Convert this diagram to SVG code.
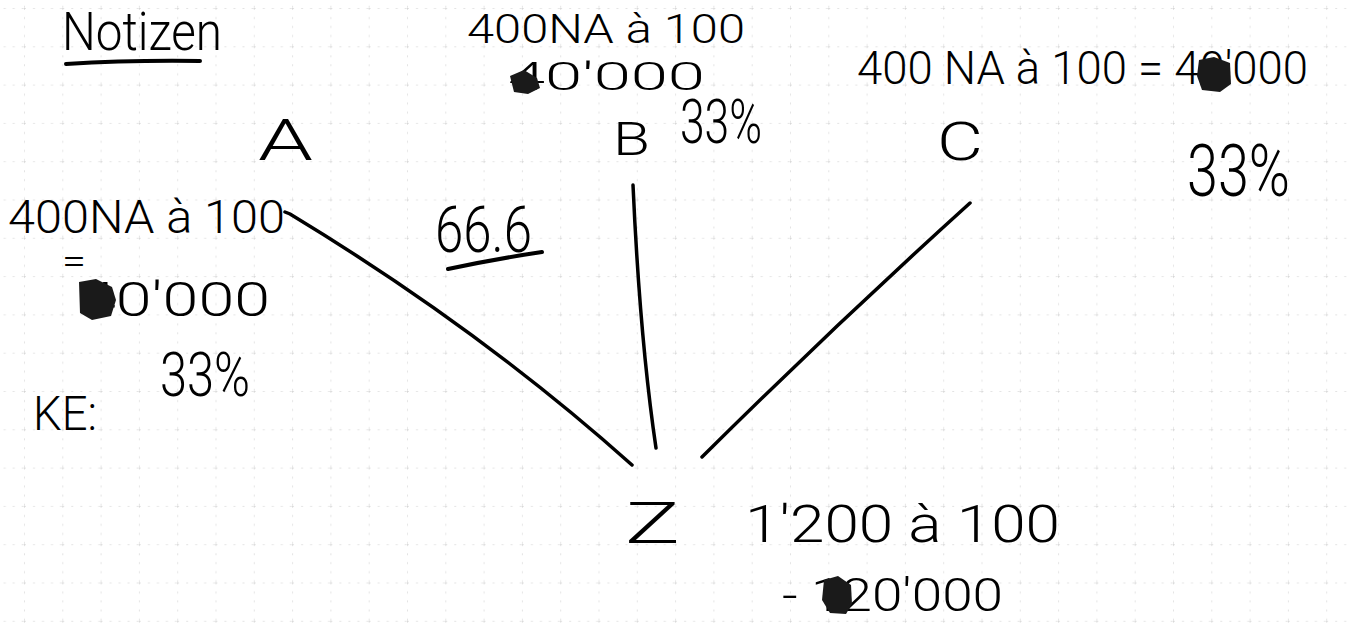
<svg xmlns="http://www.w3.org/2000/svg" width="1347" height="623" viewBox="0 0 1347 623">
<style>
.t{font-family:Roboto,"Open Sans","Liberation Sans",sans-serif;font-weight:300;fill:#000}
.ln{fill:none;stroke:#000;stroke-width:3.5;stroke-linecap:round}
.ul{fill:none;stroke:#000;stroke-width:4;stroke-linecap:round}
.blob{fill:#1a1a1a}
</style>
<defs>
<pattern id="grid" patternUnits="userSpaceOnUse" x="24" y="8" width="38.3" height="38.3">
<path d="M0,0 H38.3 M0,0 V38.3" fill="none" stroke="#c8c8c8" stroke-width="1" stroke-dasharray="2 7"/>
</pattern>
</defs>
<rect width="1347" height="623" fill="#fff"/>
<rect width="1347" height="623" fill="url(#grid)"/>

<g id="title">
<text class="t" x="62" y="50" font-size="54" textLength="160" lengthAdjust="spacingAndGlyphs">Notizen</text>
<path class="ul" d="M66,64 Q130,60 200,61"/>
</g>

<g id="connectors">
<path class="ln" d="M285,212 L290,214 Q480,329 632,465"/>
<path class="ln" d="M633,185 Q640,340 656,448"/>
<path class="ln" d="M970,203 Q834,326 702,457"/>
</g>

<g id="node-A">
<text class="t" x="258" y="160" font-size="58" textLength="55" lengthAdjust="spacingAndGlyphs">A</text>
<text class="t" font-size="46"><tspan x="8" y="233" textLength="277" lengthAdjust="spacingAndGlyphs">400NA à 100</tspan><tspan x="62" y="274" font-size="36" textLength="24" lengthAdjust="spacingAndGlyphs">=</tspan><tspan x="80" y="316" font-size="48" textLength="190" lengthAdjust="spacingAndGlyphs">40'000</tspan></text>
<path class="blob" d="M79,282 L96,279 L112,287 L116,300 L111,316 L92,320 L80,313 Z"/>
<text class="t" x="160" y="396" font-size="62" textLength="90" lengthAdjust="spacingAndGlyphs">33%</text>
<text class="t" x="33" y="430" font-size="48" textLength="64" lengthAdjust="spacingAndGlyphs">KE:</text>
</g>

<g id="label-66">
<text class="t" x="435" y="252" font-size="64" textLength="97" lengthAdjust="spacingAndGlyphs">66.6</text>
<path class="ul" d="M448,269 Q495,259 542,252"/>
</g>

<g id="node-B">
<text class="t" x="467" y="43" font-size="40" textLength="278" lengthAdjust="spacingAndGlyphs">400NA à 100</text>
<text class="t" x="508" y="90" font-size="38" textLength="197" lengthAdjust="spacingAndGlyphs">40'000</text>
<path class="blob" d="M510,76 L524,70 L537,78 L540,88 L528,94 L514,92 Z"/>
<text class="t" x="613" y="155" font-size="46" textLength="37" lengthAdjust="spacingAndGlyphs">B</text>
<text class="t" x="680" y="143" font-size="62" textLength="82" lengthAdjust="spacingAndGlyphs">33%</text>
</g>

<g id="node-C">
<text class="t" x="857" y="84" font-size="46" textLength="451" lengthAdjust="spacingAndGlyphs">400 NA à 100 = 40'000</text>
<path class="blob" d="M1199,60 L1214,57 L1230,63 L1231,84 L1220,92 L1202,90 L1197,76 Z"/>
<text class="t" x="937" y="160" font-size="54" textLength="46" lengthAdjust="spacingAndGlyphs">C</text>
<text class="t" x="1187" y="196" font-size="72" textLength="103" lengthAdjust="spacingAndGlyphs">33%</text>
</g>

<g id="node-Z">
<text class="t" x="625" y="543" font-size="58" textLength="55" lengthAdjust="spacingAndGlyphs">Z</text>
<text class="t" x="745" y="542" font-size="52" textLength="315" lengthAdjust="spacingAndGlyphs">1'200 à 100</text>
<text class="t" x="782" y="611" font-size="46" textLength="221" lengthAdjust="spacingAndGlyphs">- 120'000</text>
<path class="blob" d="M824,580 L838,576 L851,585 L852,604 L846,614 L830,613 L822,600 Z"/>
</g>
</svg>
